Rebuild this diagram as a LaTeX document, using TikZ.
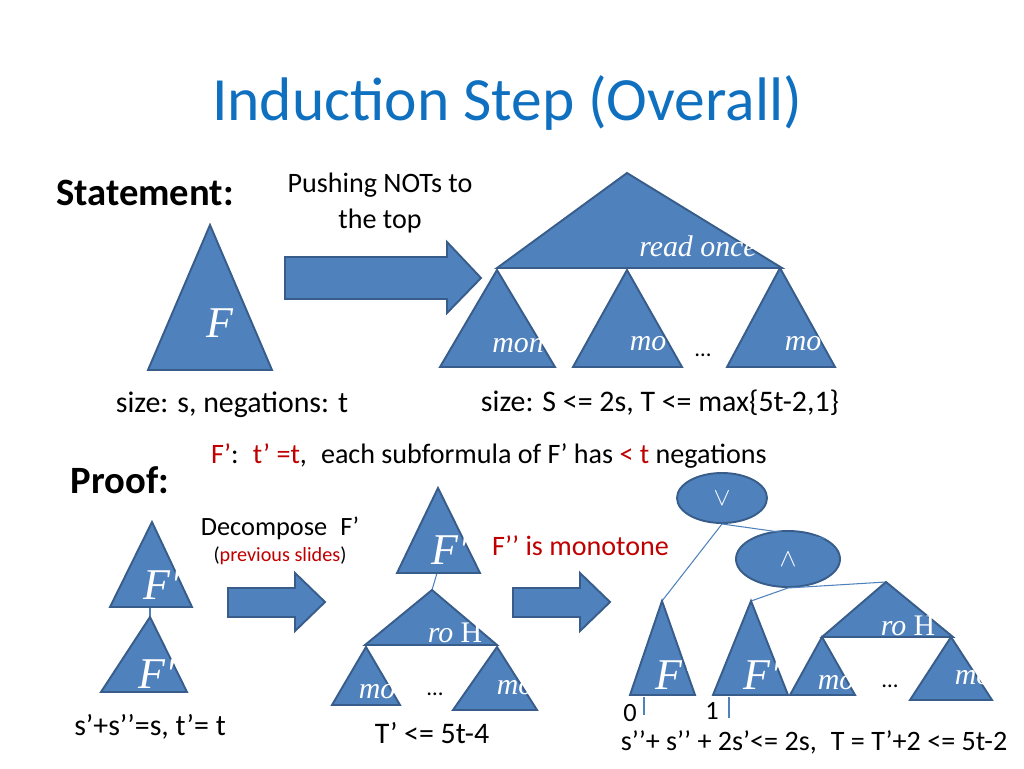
\documentclass[tikz,border=0pt]{standalone}
\usepackage{fontspec}
\setmainfont{Carlito}
\newfontfamily\mathlike{Liberation Serif}
\usepackage{tikz}
\usetikzlibrary{shapes.geometric}
\definecolor{boxblue}{RGB}{79,129,189}
\definecolor{edgeblue}{RGB}{56,93,138}
\definecolor{titleblue}{RGB}{16,112,192}
\definecolor{darkred}{RGB}{192,0,0}
\tikzset{
  tri/.style={fill=boxblue, draw=edgeblue, line width=1.1pt},
  lbl/.style={text=white, font=\mathlike\itshape\fontsize{17}{17}\selectfont},
  big/.style={text=white, font=\mathlike\itshape\fontsize{25}{25}\selectfont},
  txt/.style={font=\fontsize{17}{21}\selectfont},
  dotsy/.style={font=\fontsize{13}{13}\selectfont},
  wire/.style={draw=boxblue, line width=0.6pt},
  gate/.style={ellipse, fill=boxblue, draw=edgeblue, line width=1.1pt, text=white, inner sep=0pt, font=\fontsize{15}{15}\selectfont}
}
\begin{document}
\begin{tikzpicture}[x=0.02cm, y=-0.02cm]
    \useasboundingbox (0, 0) rectangle (1024, 768);
    \node[text=titleblue, font=\fontsize{35}{35}\selectfont] (title) at (507, 103) {Induction Step (Overall)};
    \node[font=\bfseries\fontsize{22}{22}\selectfont] (stmt) at (145, 193) {Statement:};
    \node[txt, align=center, font=\fontsize{16}{20}\selectfont] (push) at (380, 203) {Pushing NOTs to\\the top};
    % statement: F
    \draw[tri] (210, 225) -- (272, 370) -- (148, 370) -- cycle;
    \node[big] (F) at (220, 323) {F};
    \draw[tri] (285, 257) -- (447, 257) -- (447, 242) -- (481, 278) -- (447, 313) -- (447, 299) -- (285, 299) -- cycle;
    % read once tree
    \draw[tri] (627, 173) -- (782, 268) -- (497, 268) -- cycle;
    \node[lbl] (ro) at (698, 246) {read once};
    \draw[tri] (497, 270) -- (555, 367) -- (440, 367) -- cycle;
    \draw[tri] (627, 270) -- (682, 367) -- (573, 367) -- cycle;
    \draw[tri] (780, 268) -- (835, 367) -- (727, 367) -- cycle;
    \node[lbl] (m1) at (518, 346) {mon};
    \node[lbl] (m2) at (648, 344) {mo};
    \node[lbl] (m3) at (803, 344) {mo};
    \node[dotsy] (d1) at (703, 355) {…};
    \node[txt] (sz1) at (232, 405) {size: s, negations: t};
    \node[txt] (sz2) at (660, 403) {size: S <= 2s, T <= max\{5t-2,1\}};
    \node[txt, anchor=west, font=\fontsize{16}{20}\selectfont] (fp) at (205, 456) {\textcolor{darkred}{F’}:\enspace\textcolor{darkred}{t’ =t},\enspace each subformula of F’ has \textcolor{darkred}{< t} negations};
    \node[font=\bfseries\fontsize{22}{22}\selectfont] (proof) at (120, 480) {Proof:};
    % left: F' over F''
    \coordinate (a1) at (152, 522);
    \coordinate (a2) at (150, 617);
    \draw[wire] (150, 607) -- (a2);
    \draw[tri] (a1) -- (192, 607) -- (110, 607) -- cycle;
    \draw[tri] (a2) -- (187, 692) -- (101, 692) -- cycle;
    \node[big] (Fa) at (162, 585) {F′};
    \node[big] (Fb) at (157, 674) {F′};
    \node[txt] (sl) at (150, 727) {s’+s’’=s, t’= t};
    \node[txt, font=\fontsize{15}{15}\selectfont] (dec) at (280, 528) {Decompose\enspace F’};
    \node[font=\fontsize{11.5}{12}\selectfont] (prev) at (280, 556) {(\textcolor{darkred}{previous slides})};
    \draw[tri] (228, 588) -- (295, 588) -- (295, 573) -- (325, 602) -- (295, 631) -- (295, 617) -- (228, 617) -- cycle;
    % middle
    \coordinate (b1) at (438, 488);
    \coordinate (b2) at (432, 590);
    \draw[wire] (437, 573) -- (b2);
    \draw[tri] (b1) -- (480, 573) -- (397, 573) -- cycle;
    \node[big] (Fc) at (450, 550) {F′};
    \draw[tri] (b2) -- (497, 645) -- (365, 645) -- cycle;
    \draw[tri] (366, 647) -- (400, 705) -- (332, 705) -- cycle;
    \draw[tri] (497, 647) -- (537, 710) -- (453, 710) -- cycle;
    \node[lbl] (roH1) at (455, 633) {ro \upshape H};
    \node[lbl] (m4) at (377, 692) {mo};
    \node[lbl] (m5) at (515, 688) {mo};
    \node[dotsy] (d2) at (435, 694) {…};
    \node[txt] (tp) at (432, 733) {T’ <= 5t-4};
    \node[text=darkred, font=\fontsize{16}{16}\selectfont, anchor=west] (mono) at (486, 546) {F’’ is monotone};
    \draw[tri] (513, 588) -- (580, 588) -- (580, 573) -- (610, 602) -- (580, 631) -- (580, 617) -- (513, 617) -- cycle;
    % right
    \node[gate, minimum width=104*0.02cm, minimum height=56*0.02cm] (and) at (788, 559) {$\wedge$};
    \node[gate, minimum width=90*0.02cm, minimum height=50*0.02cm] (or) at (722, 498) {$\vee$};
    \coordinate (c1) at (662, 601);
    \coordinate (c2) at (751, 601);
    \coordinate (c3) at (886, 582);
    \draw[wire] (or.south) -- (c1);
    \draw[wire] (or.south) -- (and.north east);
    \draw[wire] (and.south) -- (c2);
    \draw[wire] (and.south) -- (c3);
    \draw[tri] (c1) -- (695, 695) -- (630, 695) -- cycle;
    \draw[tri] (c2) -- (788, 695) -- (713, 695) -- cycle;
    \draw[tri] (c3) -- (953, 637) -- (822, 637) -- cycle;
    \draw[tri] (822, 637) -- (855, 695) -- (790, 695) -- cycle;
    \draw[tri] (951, 637) -- (992, 700) -- (910, 700) -- cycle;
    \node[big] (Fd) at (674, 675) {F′};
    \node[big] (Fe) at (762, 675) {F′};
    \node[lbl] (roH2) at (908, 626) {ro \upshape H};
    \node[lbl] (m6) at (836, 683) {mo};
    \node[lbl] (m7) at (973, 678) {mo};
    \node[dotsy] (d3) at (890, 686) {…};
    \coordinate (z0) at (644, 715);
    \coordinate (z1) at (729, 718);
    \draw[wire] (644, 697) -- (z0);
    \draw[wire] (729, 697) -- (z1);
    \node[font=\fontsize{15}{15}\selectfont] (n0) at (630, 713) {0};
    \node[font=\fontsize{15}{15}\selectfont] (n1) at (712, 711) {1};
    \node[font=\fontsize{16}{20}\selectfont] (last) at (814, 742) {s’’+ s’’ + 2s’<= 2s,\enspace T = T’+2 <= 5t-2};
\end{tikzpicture}
\end{document}
